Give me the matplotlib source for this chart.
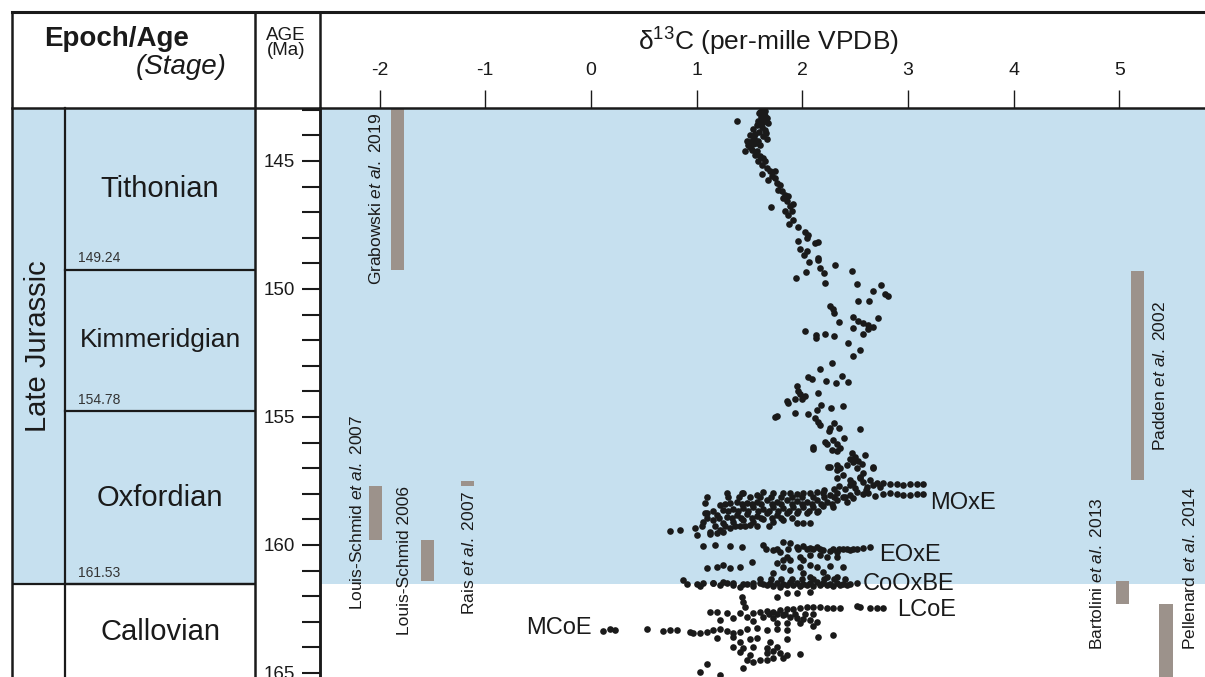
"""d13C composite record against age, with the stage column on the left."""
import matplotlib
matplotlib.use('Agg')
import matplotlib.pyplot as plt
import numpy as np

plt.rcParams.update({
    'font.family': 'Liberation Sans',
    'axes.unicode_minus': False,
    'mathtext.fontset': 'custom',
    'mathtext.rm': 'Liberation Sans',
    'mathtext.it': 'Liberation Sans:italic',
    'mathtext.bf': 'Liberation Sans:bold',
})

BLUE = '#c6e0ef'
GREY = '#9c928b'
INK = '#1a1a1a'

# ---------------------------------------------------------------
# data
# ---------------------------------------------------------------
stage_names = ['Tithonian', 'Kimmeridgian', 'Oxfordian', 'Callovian']
stage_base = [149.24, 154.78, 161.53, 165.29]
stage_size = [21, 19, 21, 21]
epoch_name = 'Late Jurassic'
epoch_base = 161.53

age_major = [145, 150, 155, 160, 165]
age_minor = list(range(143, 166))
d13c_ticks = [-2, -1, 0, 1, 2, 3, 4, 5]
d13c_ticklabels = ['-2', '-1', '0', '1', '2', '3', '4', '5']

# literature records (d13C position, age span)
ref_labels = [r'Grabowski $\mathit{et\ al.}$ 2019', r'Padden $\mathit{et\ al.}$ 2002',
              r'Bartolini $\mathit{et\ al.}$ 2013', r'Pellenard $\mathit{et\ al.}$ 2014',
              r'Louis-Schmid $\mathit{et\ al.}$ 2007', 'Louis-Schmid 2006',
              r'Rais $\mathit{et\ al.}$ 2007']
ref_x = [-1.83, 5.17, 5.03, 5.44, -2.04, -1.55, -1.17]
ref_top = [142.90, 149.30, 161.40, 162.30, 157.70, 159.80, 157.50]
ref_bottom = [149.24, 157.46, 162.30, 166.00, 159.80, 161.40, 157.70]

# carbon-isotope events
event_names = ['MOxE', 'EOxE', 'CoOxBE', 'LCoE', 'MCoE']
event_d13c = [3.21, 2.73, 2.57, 2.90, 0.01]
event_age = [158.36, 160.39, 161.52, 162.54, 163.24]

# Tithonian - Kimmeridgian samples
d13c_tk = [1.614, 1.646, 1.592, 1.637, 1.608, 1.662, 1.583, 1.630, 1.671, 1.567,
           1.614, 1.536, 1.646, 1.592, 1.551, 1.504, 1.630, 1.662, 1.473, 1.520,
           1.583, 1.488, 1.536, 1.599, 1.457, 1.520, 1.567, 1.551, 1.599, 1.630,
           1.583, 1.646, 1.614, 1.662, 1.614, 1.693, 1.741, 1.709, 1.678, 1.741,
           1.756, 1.788, 1.772, 1.804, 1.835, 1.820, 1.867, 1.851, 1.883, 1.914,
           1.835, 1.867, 1.898, 1.914, 1.876, 1.961, 2.025, 2.056, 2.040, 1.961,
           2.119, 2.151, 1.977, 2.040, 2.015, 2.151, 2.151, 2.066, 2.166, 2.204,
           2.034, 2.308, 2.466, 1.939, 2.214, 2.513, 2.744, 2.665, 2.782, 2.813,
           2.529, 2.633, 2.261, 1.703, 1.378,
           1.600, 1.650, 1.580, 1.620, 1.660, 1.540, 1.500, 1.560]
age_tk = [143.00, 143.03, 143.13, 143.19, 143.30, 143.32, 143.43, 143.48, 143.52, 143.61,
          143.69, 143.74, 143.79, 143.87, 143.95, 144.00, 144.04, 144.13, 144.21, 144.23,
          144.23, 144.39, 144.34, 144.36, 144.62, 144.56, 144.60, 144.75, 144.82, 144.88,
          145.01, 145.01, 145.14, 145.27, 145.51, 145.40, 145.38, 145.60, 145.73, 145.66,
          145.86, 145.93, 146.12, 146.19, 146.32, 146.45, 146.38, 146.58, 146.77, 146.68,
          146.97, 147.10, 146.97, 147.29, 147.46, 147.59, 147.77, 147.88, 148.01, 148.11,
          148.20, 148.18, 148.42, 148.53, 148.66, 148.79, 148.88, 148.95, 149.18, 149.36,
          149.34, 149.05, 149.28, 149.57, 149.77, 149.79, 149.86, 150.09, 150.20, 150.29,
          150.48, 150.46, 150.65, 146.81, 143.45,
          143.08, 143.25, 143.55, 143.40, 143.90, 144.10, 144.45, 144.30]

# Kimmeridgian - upper Oxfordian samples
d13c_ko = [2.293, 2.302, 2.346, 2.476, 2.529, 2.576, 2.624, 2.671, 2.712, 2.476,
           2.624, 2.576, 2.025, 2.129, 2.129, 2.214, 2.302, 2.435, 2.545, 2.476,
           2.277, 2.166, 2.056, 2.094, 2.223, 2.315, 2.378, 2.435, 1.946, 1.955,
           1.977, 2.025, 1.993, 1.933, 1.857, 1.867, 2.151, 2.176, 2.141, 2.271,
           2.387, 1.930, 2.056, 2.119, 2.151, 2.166, 2.302, 2.261, 2.349, 2.545,
           2.255, 2.214, 2.230, 2.293, 2.324, 2.356, 2.397, 2.103, 2.103, 2.277,
           2.324, 2.466, 2.498, 2.592, 2.450, 2.529, 2.561, 2.245, 2.330, 2.356,
           2.671, 1.763, 1.741]
age_ko = [150.79, 150.95, 151.28, 151.08, 151.24, 151.34, 151.41, 151.50, 151.15, 151.54,
          151.58, 151.76, 151.63, 151.80, 151.93, 151.77, 151.82, 152.12, 152.38, 152.62,
          152.88, 153.13, 153.45, 153.52, 153.58, 153.69, 153.39, 153.63, 153.79, 153.97,
          154.10, 154.18, 154.31, 154.30, 154.36, 154.47, 154.08, 154.53, 154.73, 154.64,
          154.57, 154.83, 154.88, 155.05, 155.18, 155.31, 155.22, 155.44, 155.44, 155.48,
          155.55, 155.96, 156.07, 155.90, 156.07, 156.22, 155.81, 156.16, 156.26, 156.31,
          156.35, 156.42, 156.55, 156.47, 156.65, 156.74, 156.84, 156.94, 156.87, 156.98,
          156.98, 154.95, 154.99]

# Oxfordian samples
d13c_ox = [2.261, 2.324, 2.419, 2.482, 2.513, 2.577, 2.671, 2.387, 2.545, 2.450, 2.324,
           2.482, 2.577, 2.640, 2.703, 2.766, 2.829, 2.892, 2.955, 3.018, 3.081, 3.144,
           2.545, 2.608, 2.671, 2.734,
           2.577, 2.624, 2.687, 2.766, 2.829, 2.892, 2.955, 3.018, 3.081, 3.144,
           1.094, 1.283, 1.425, 1.567, 1.630, 1.725, 1.820, 1.883, 1.946, 2.009,
           2.072, 2.135, 2.198, 2.261, 2.324, 2.387, 2.450, 2.513,
           1.220, 1.315, 1.378, 1.473, 1.567, 1.662, 1.756, 1.851, 1.946, 2.040,
           2.135, 2.230, 2.324, 2.419, 2.482,
           1.252, 1.346, 1.441, 1.536, 1.630, 1.725, 1.820, 1.914, 2.009, 2.103, 2.198, 2.293,
           1.094, 1.189, 1.283, 1.378, 1.473, 1.567, 1.662, 1.756, 1.851, 1.946, 2.040, 2.135,
           1.063, 1.157, 1.252, 1.346, 1.441, 1.536, 1.630, 1.725, 1.820, 1.946, 2.009, 2.072,
           0.747, 0.842, 0.984, 1.126, 1.220, 1.315, 1.410, 1.504,
           1.000, 1.126, 1.189, 1.252, 1.078, 1.078, 1.441,
           1.063, 1.173, 1.315, 1.425, 1.630, 1.725, 1.820, 1.883, 1.946, 2.009,
           2.072, 2.135, 2.198, 2.261, 2.324, 2.387, 2.450, 2.513, 2.577, 2.640,
           1.788, 1.851, 1.977, 2.072, 2.166, 2.230, 2.324, 1.883, 2.009,
           1.094, 1.189, 1.252, 1.315, 1.410, 1.520, 1.756, 1.820, 1.883, 1.977,
           2.072, 2.135, 2.261, 2.387, 1.820, 1.725, 2.009, 2.198,
           0.873, 1.000, 1.063, 1.157, 1.252, 1.346, 1.441, 1.536, 1.630, 1.693,
           1.756, 1.820, 1.883, 1.946, 2.009, 2.072, 2.135, 2.198, 2.261, 2.324,
           2.387, 2.450, 2.513, 2.230, 2.324, 2.072]
age_ox = [156.94, 157.07, 156.88, 156.75, 157.01, 157.20, 156.97, 157.27, 157.40, 157.46, 157.40,
          157.59, 157.53, 157.46, 157.57, 157.59, 157.62, 157.62, 157.64, 157.62, 157.63, 157.62,
          157.33, 157.72, 157.66, 157.72,
          158.01, 157.96, 158.09, 158.02, 157.98, 158.02, 158.05, 158.03, 158.01, 158.01,
          158.11, 157.98, 157.98, 158.05, 157.92, 157.98, 157.98, 157.96, 158.01, 157.98,
          157.96, 157.92, 157.98, 158.05, 157.98, 158.11, 158.05, 157.92,
          158.44, 158.37, 158.31, 158.35, 158.31, 158.24, 158.31, 158.24, 158.27, 158.31,
          158.24, 158.31, 158.24, 158.31, 158.18,
          158.63, 158.61, 158.57, 158.53, 158.61, 158.50, 158.57, 158.53, 158.50, 158.50, 158.48, 158.50,
          158.76, 158.83, 158.89, 158.83, 158.79, 158.87, 158.76, 158.83, 158.76, 158.74, 158.76, 158.70,
          159.09, 159.02, 159.15, 159.09, 159.02, 159.09, 159.00, 159.09, 159.02, 159.13, 159.13, 159.13,
          159.44, 159.41, 159.35, 159.48, 159.41, 159.35, 159.28, 159.22,
          159.61, 159.57, 159.52, 159.48, 158.37, 158.76, 157.98,
          160.04, 160.00, 160.04, 160.07, 160.00, 160.20, 159.87, 159.94, 160.09, 160.04,
          160.13, 160.07, 160.20, 160.22, 160.26, 160.17, 160.20, 160.17, 160.13, 160.09,
          160.26, 160.46, 160.46, 160.39, 160.39, 160.46, 160.46, 160.59, 160.59,
          160.91, 160.85, 160.78, 160.91, 160.85, 160.65, 160.72, 160.85, 160.98, 160.85,
          160.78, 160.85, 160.82, 160.85, 160.59, 161.11, 161.11, 161.04,
          161.37, 161.52, 161.50, 161.47, 161.43, 161.50, 161.52, 161.47, 161.52, 161.50,
          161.47, 161.52, 161.43, 161.47, 161.52, 161.47, 161.43, 161.50, 161.52, 161.50,
          161.52, 161.52, 161.50, 161.26, 161.24, 161.24]

# Oxfordian samples inside the dense clusters
d13c_ox_dense = [1.30, 1.40, 1.50, 1.60, 1.70, 1.80, 1.90, 2.00, 2.10, 2.20, 2.30, 2.40,
                 1.27, 1.43, 1.52, 1.61, 1.71, 1.80, 1.90, 2.00, 2.09, 2.18, 2.28,
                 1.15, 1.30, 1.39, 1.49, 1.58, 1.68, 1.77, 1.87, 1.96, 2.06, 2.15,
                 1.10, 1.21, 1.33, 1.42, 1.52, 1.61, 1.71, 1.80, 1.90,
                 1.05, 1.17, 1.27, 1.36, 1.46, 1.57, 1.68,
                 2.20, 2.30, 2.40, 2.50, 2.60, 2.35, 2.45,
                 1.66, 1.76, 1.86, 1.96, 2.04, 2.10, 2.17, 2.29, 2.35, 2.42, 2.48,
                 1.60, 1.70, 1.80, 1.90, 2.00, 2.10, 2.20, 2.30, 2.40]
age_ox_dense = [158.14, 158.14, 158.14, 158.14, 158.14, 158.14, 158.14, 158.14, 158.14, 158.14, 158.14, 158.14,
                158.42, 158.42, 158.42, 158.42, 158.42, 158.42, 158.42, 158.42, 158.42, 158.42, 158.42,
                158.68, 158.68, 158.68, 158.68, 158.68, 158.68, 158.68, 158.68, 158.68, 158.68, 158.68,
                158.95, 158.95, 158.95, 158.95, 158.95, 158.95, 158.95, 158.95, 158.95,
                159.25, 159.25, 159.25, 159.25, 159.25, 159.25, 159.25,
                157.85, 157.80, 157.82, 157.78, 157.85, 157.70, 157.65,
                160.15, 160.15, 160.15, 160.15, 160.15, 160.15, 160.15, 160.15, 160.15, 160.15, 160.15,
                161.35, 161.35, 161.35, 161.35, 161.35, 161.35, 161.35, 161.35, 161.35]

# Callovian samples
d13c_ca = [0.905, 1.031, 1.158, 1.221, 1.284, 1.347, 1.410, 1.473, 1.536, 1.599,
           1.662, 1.725, 1.788, 1.851, 1.915, 1.978, 2.041, 2.104, 2.167, 2.230,
           2.293, 2.356, 2.419,
           1.426, 1.441, 1.457, 1.757, 1.851, 1.946, 2.072,
           1.126, 1.189, 1.284, 1.410, 1.536, 1.599, 1.662, 1.725, 1.788, 1.851,
           1.915, 1.978, 2.041, 2.104, 2.167, 2.230, 2.293, 2.356, 2.514, 2.545,
           2.640, 2.703, 2.766,
           1.221, 1.347, 1.473, 1.536, 1.631, 1.725, 1.820, 1.883, 1.946, 2.009,
           2.072, 2.135, 1.757, 1.851, 1.978, 2.104,
           0.117, 0.180, 0.227, 0.527, 0.684, 0.748, 0.811, 0.937, 0.968, 1.031,
           1.094, 1.158, 1.221, 1.284, 1.347, 1.410, 1.473, 1.568, 1.662, 1.757,
           1.851, 2.151, 2.293,
           1.189, 1.347, 1.410, 1.505, 1.568, 1.694, 1.851, 1.347, 1.441, 1.536, 1.662, 1.757,
           1.410, 1.505, 1.662, 1.725, 1.788, 1.851, 1.978, 1.599, 1.725, 1.820, 1.473, 1.536,
           1.094, 1.031, 1.221, 1.441, 1.662,
           1.68, 1.76, 1.84, 1.93, 2.02, 2.10]
age_ca = [161.53, 161.60, 161.50, 161.57, 161.50, 161.57, 161.63, 161.53, 161.60, 161.50,
          161.57, 161.60, 161.63, 161.57, 161.57, 161.60, 161.57, 161.60, 161.57, 161.57,
          161.60, 161.57, 161.57,
          162.02, 162.22, 162.41, 162.02, 161.86, 161.89, 161.83,
          162.61, 162.61, 162.67, 162.67, 162.65, 162.61, 162.57, 162.61, 162.54, 162.52,
          162.52, 162.48, 162.44, 162.41, 162.44, 162.48, 162.48, 162.48, 162.39, 162.44,
          162.48, 162.48, 162.48,
          162.93, 162.87, 162.83, 162.96, 162.80, 162.87, 162.74, 162.80, 162.87, 162.91,
          162.93, 163.00, 163.06, 163.06, 163.06, 163.17,
          163.35, 163.30, 163.32, 163.30, 163.35, 163.32, 163.32, 163.39, 163.43, 163.43,
          163.39, 163.32, 163.30, 163.35, 163.45, 163.39, 163.30, 163.26, 163.32, 163.30,
          163.32, 163.61, 163.52,
          163.65, 163.58, 163.78, 163.69, 163.65, 163.78, 163.69, 163.97, 164.04, 163.97, 164.04, 163.97,
          164.17, 164.30, 164.21, 164.13, 164.23, 164.30, 164.26, 164.49, 164.43, 164.43, 164.49, 164.56,
          164.65, 164.95, 165.08, 164.82, 164.49,
          162.70, 162.70, 162.70, 162.70, 162.70, 162.70]

d13c = np.array(d13c_tk + d13c_ko + d13c_ox + d13c_ox_dense + d13c_ca)
age = np.array(age_tk + age_ko + age_ox + age_ox_dense + age_ca)

# ---------------------------------------------------------------
# layout (pixels of the 1205 x 677 canvas)
# ---------------------------------------------------------------
W, H = 1205, 677


def fx(px):
    return px / W


def fy(py):
    return 1 - py / H


age_lim = (165.16, 142.93)
d13c_lim = (-2.564, 5.809)

fig = plt.figure(figsize=(W / 100, H / 100), dpi=100)

# main data panel
ax = fig.add_axes([fx(320), 0, 1 - fx(320), fy(108)])
ax.set_xlim(*d13c_lim)
ax.set_ylim(*age_lim)
ax.axhspan(age_lim[1], epoch_base, color=BLUE, lw=0, zorder=0)

ax.bar(ref_x, np.array(ref_bottom) - np.array(ref_top), bottom=ref_top,
       width=0.125, color=GREY, lw=0, zorder=2)
ax.scatter(d13c, age, s=23, c=INK, linewidths=0, zorder=3)

# reference labels (rotated)
lab_x = [-2.03, 5.38, 4.79, 5.67, -2.21, -1.76, -1.15]
lab_y = [143.12, 153.42, 161.11, 160.92, 162.54, 163.52, 162.73]
lab_va = ['top', 'center', 'center', 'center', 'bottom', 'bottom', 'bottom']
for t, x, y, va in zip(ref_labels, lab_x, lab_y, lab_va):
    ax.text(x, y, t, rotation=90, ha='center', va=va, fontsize=12.5,
            color=INK, zorder=4)

for name, x, y in zip(event_names, event_d13c, event_age):
    ax.text(x, y, name, ha='right' if name == 'MCoE' else 'left',
            va='center', fontsize=17, color=INK, zorder=4)

for s in ['right', 'bottom']:
    ax.spines[s].set_visible(False)
for s in ['top', 'left']:
    ax.spines[s].set_linewidth(1.8)
    ax.spines[s].set_color(INK)

ax.xaxis.tick_top()
ax.set_xticks(d13c_ticks)
ax.set_xticklabels(d13c_ticklabels)
ax.tick_params(axis='x', direction='out', length=13, width=1.0,
               labelsize=14, pad=8, colors=INK)
ax.set_yticks(age_major)
ax.set_yticklabels([str(a) for a in age_major])
ax.set_yticks(age_minor, minor=True)
ax.tick_params(axis='y', which='both', direction='out', length=13, width=1.5,
               labelsize=13.5, pad=5, colors=INK)

# stage / epoch column
axs = fig.add_axes([fx(12), 0, fx(255) - fx(12), fy(108)])
axs.set_xlim(0, 243)
axs.set_ylim(*age_lim)
axs.axis('off')
axs.axhspan(age_lim[1], epoch_base, color=BLUE, lw=0, zorder=0)
axs.plot([0, 243], [epoch_base, epoch_base], color=INK, lw=1.6)
tops = [age_lim[1]] + stage_base[:-1]
for name, top, base, fs in zip(stage_names, tops, stage_base, stage_size):
    axs.plot([53, 243], [base, base], color=INK, lw=1.6)
    axs.text(148, (top + base) / 2, name, ha='center', va='center',
             fontsize=fs, color=INK)
    axs.annotate(f'{base:.2f}', (66, base), xytext=(0, 3), textcoords='offset points',
                 ha='left', va='bottom', fontsize=10, color='#333333')
axs.text(26.5, (age_lim[1] + epoch_base) / 2, epoch_name, rotation=90,
         ha='center', va='center', fontsize=21, color=INK)

# frame lines and headers
frame = fig.add_axes([0, 0, 1, 1], zorder=5)
frame.set_xlim(0, W)
frame.set_ylim(H, 0)
frame.axis('off')
frame.plot([12, W], [12, 12], color=INK, lw=2.2)
frame.plot([12, 320], [108, 108], color=INK, lw=1.8)
for xp in [12, 255, 320]:
    frame.plot([xp, xp], [12, H], color=INK, lw=1.8)
frame.plot([65, 65], [108, H], color=INK, lw=1.6)

fig.text(fx(116.5), fy(39), 'Epoch/Age', ha='center', va='center',
         fontsize=20, fontweight='bold', color=INK)
fig.text(fx(181.5), fy(67), '(Stage)', ha='center', va='center',
         fontsize=20, style='italic', color=INK)
fig.text(fx(286), fy(43), 'AGE\n(Ma)', ha='center', va='center',
         fontsize=13.5, linespacing=0.9, color=INK)
fig.text(fx(768), fy(42), 'δ$^{13}$C (per-mille VPDB)', ha='center', va='center',
         fontsize=19, color=INK)

fig.savefig('out.png', dpi=100)
